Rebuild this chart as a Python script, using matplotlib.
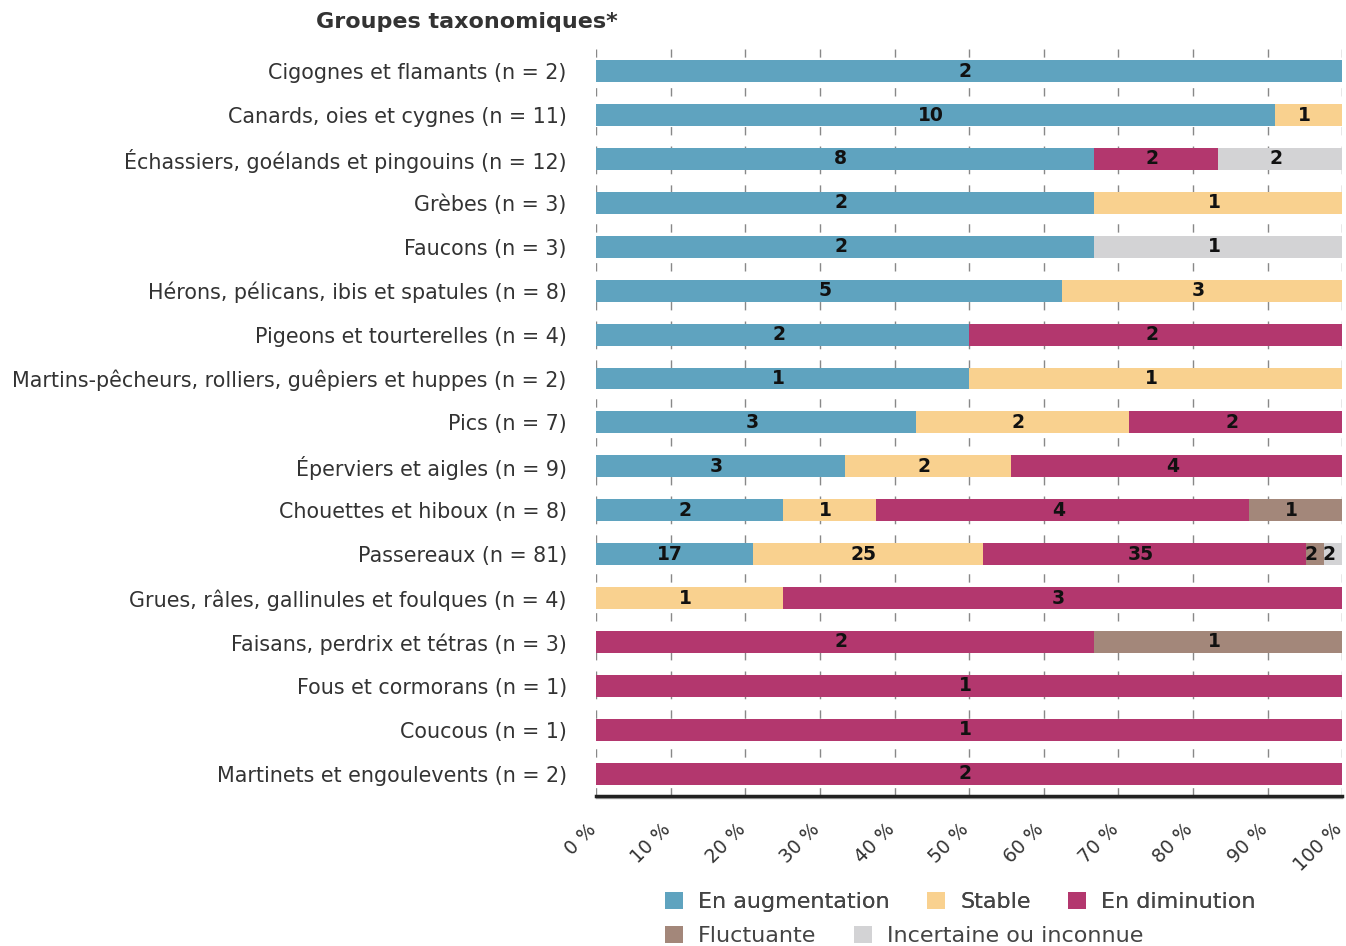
import matplotlib
matplotlib.use("Agg")
import matplotlib.pyplot as plt
import matplotlib.transforms as mtrans
import numpy as np
from matplotlib.patches import Patch

categories = [
    "Cigognes et flamants (n = 2)",
    "Canards, oies et cygnes (n = 11)",
    "Échassiers, goélands et pingouins (n = 12)",
    "Grèbes (n = 3)",
    "Faucons (n = 3)",
    "Hérons, pélicans, ibis et spatules (n = 8)",
    "Pigeons et tourterelles (n = 4)",
    "Martins-pêcheurs, rolliers, guêpiers et huppes (n = 2)",
    "Pics (n = 7)",
    "Éperviers et aigles (n = 9)",
    "Chouettes et hiboux (n = 8)",
    "Passereaux (n = 81)",
    "Grues, râles, gallinules et foulques (n = 4)",
    "Faisans, perdrix et tétras (n = 3)",
    "Fous et cormorans (n = 1)",
    "Coucous (n = 1)",
    "Martinets et engoulevents (n = 2)",
]
en_augmentation = [2, 10, 8, 2, 2, 5, 2, 1, 3, 3, 2, 17, 0, 0, 0, 0, 0]
stable          = [0, 1, 0, 1, 0, 3, 0, 1, 2, 2, 1, 25, 1, 0, 0, 0, 0]
en_diminution   = [0, 0, 2, 0, 0, 0, 2, 0, 2, 4, 4, 35, 3, 2, 1, 1, 2]
fluctuante      = [0, 0, 0, 0, 0, 0, 0, 0, 0, 0, 1, 2, 0, 1, 0, 0, 0]
incertaine      = [0, 0, 2, 0, 1, 0, 0, 0, 0, 0, 0, 2, 0, 0, 0, 0, 0]
series_names = ["En augmentation", "Stable", "En diminution", "Fluctuante", "Incertaine ou inconnue"]
colors = ["#5fa3bf", "#f9d18f", "#b3376e", "#a3877a", "#d3d3d5"]
tick_values = list(range(0, 101, 10))
tick_labels = [f"{v} %" for v in tick_values]

plt.rcParams['font.family'] = ['DejaVu Sans']
fig = plt.figure(figsize=(13.46, 9.46), dpi=100)
ax = fig.add_axes([0.4428, 0.159, 0.5545, 0.789])

series = [en_augmentation, stable, en_diminution, fluctuante, incertaine]
data = np.array(series, dtype=float)
totals = data.sum(axis=0)
pct = data / totals * 100
y = np.arange(len(categories))
left = np.zeros(len(categories))
lab_off = mtrans.ScaledTranslation(-4 / 100, 0, fig.dpi_scale_trans)
for i, (name, col) in enumerate(zip(series_names, colors)):
    ax.barh(y, pct[i], left=left, height=0.5, color=col, zorder=3, label=name)
    for j in range(len(categories)):
        if data[i, j] > 0:
            ax.text(left[j] + pct[i, j] / 2, y[j], f"{int(data[i, j])}",
                    transform=ax.transData + lab_off,
                    ha="center", va="center", fontsize=13.5, fontweight="bold",
                    color="#111111", zorder=4)
    left += pct[i]

ax.set_xlim(0, 100)
ax.set_ylim(len(categories) - 0.5, -0.5)
ax.set_yticks(y)
ax.set_yticklabels(categories, fontsize=14.9, color="#333333")
ax.tick_params(axis="y", length=0, pad=21)
ax.set_xticks(tick_values)
ax.set_xticklabels([])
ax.tick_params(axis="x", length=0)
off = mtrans.ScaledTranslation(-3 / 100, -31 / 100, fig.dpi_scale_trans)
for v, lab in zip(tick_values, tick_labels):
    ax.text(v, 0, lab, transform=ax.get_xaxis_transform() + off, rotation=45,
            rotation_mode="anchor", ha="right", va="center", fontsize=13.5,
            color="#333333", clip_on=False)
ax.grid(axis="x", linestyle=(0, (6, 8)), color="#888888", linewidth=1, zorder=0)
for s in ["top", "right", "left"]:
    ax.spines[s].set_visible(False)
ax.spines["bottom"].set_color("#222222")
ax.spines["bottom"].set_linewidth(2.5)
ax.plot([0, 100], [0, 0], transform=ax.get_xaxis_transform() + mtrans.ScaledTranslation(0, -2.5 / 100, fig.dpi_scale_trans),
        color="#aaaaaa", linewidth=1, clip_on=False, zorder=1)

fig.text(0.3465, 0.977, "Groupes taxonomiques*", fontsize=16, fontweight="bold",
         color="#333333", ha="center", va="center")

handles = [Patch(facecolor=c, label=n) for c, n in zip(colors, series_names)]
legend_kw = dict(frameon=False, fontsize=16, handlelength=0.8, handleheight=0.8,
                 handletextpad=0.68, columnspacing=1.7, labelcolor="#444444",
                 borderaxespad=0, borderpad=0, loc="center left")
leg1 = fig.legend(handles=handles[:3], ncol=3, bbox_to_anchor=(665 / 1346, 1 - 902 / 946), **legend_kw)
fig.add_artist(leg1)
fig.legend(handles=handles[3:], ncol=2, bbox_to_anchor=(665 / 1346, 1 - 936 / 946), **legend_kw)

fig.savefig("out.png", dpi=100)
